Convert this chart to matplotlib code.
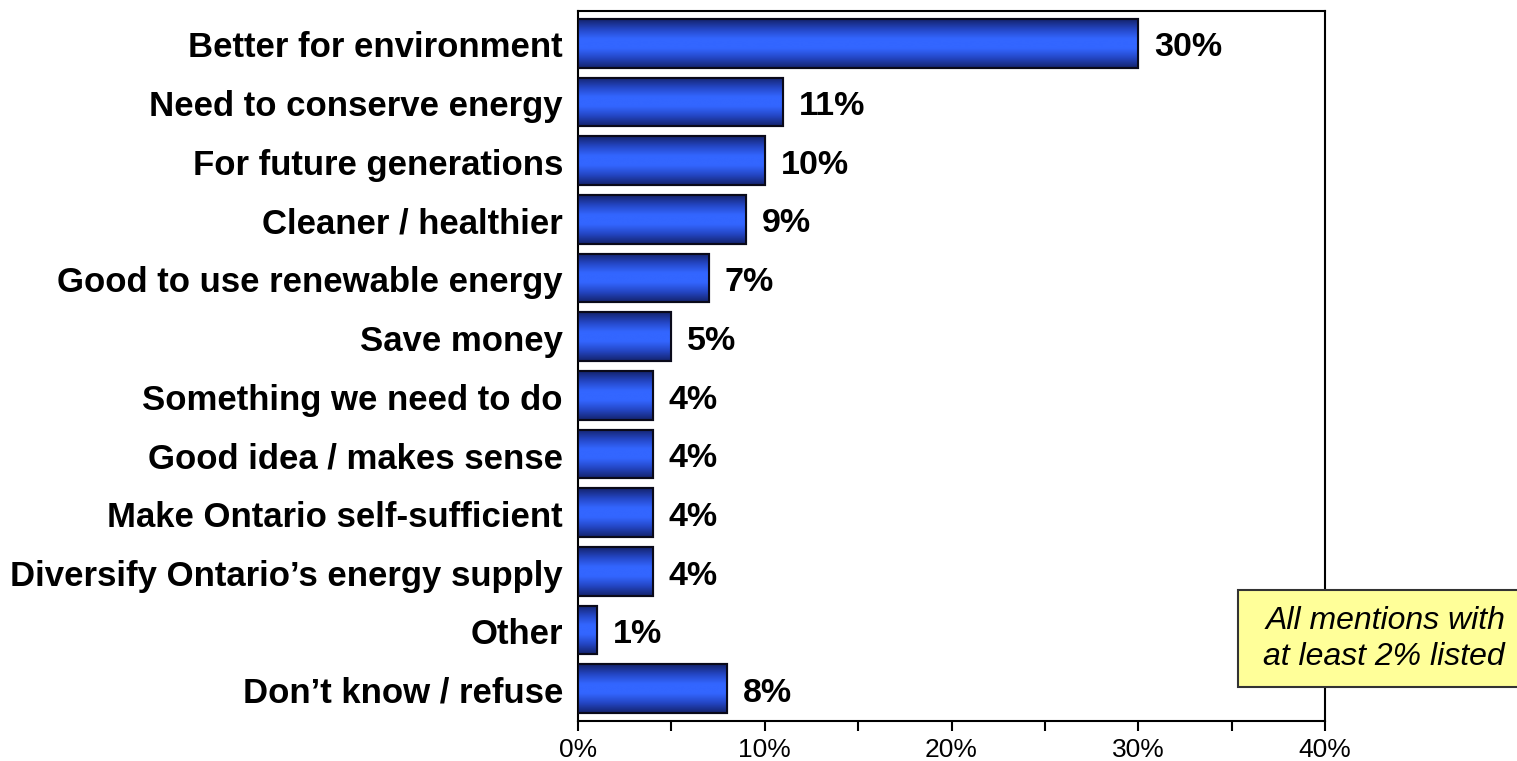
import numpy as np
import matplotlib.pyplot as plt
import matplotlib.transforms as mtransforms
from matplotlib.colors import LinearSegmentedColormap

# Data
categories = [
    "Better for environment",
    "Need to conserve energy",
    "For future generations",
    "Cleaner / healthier",
    "Good to use renewable energy",
    "Save money",
    "Something we need to do",
    "Good idea / makes sense",
    "Make Ontario self-sufficient",
    "Diversify Ontario\u2019s energy supply",
    "Other",
    "Don\u2019t know / refuse",
]
values = [30, 11, 10, 9, 7, 5, 4, 4, 4, 4, 1, 8]
xticks = [0, 10, 20, 30, 40]
note = "All mentions with\nat least 2% listed"

plt.rcParams['font.family'] = ['Liberation Sans', 'DejaVu Sans']

W, H = 1517, 761
fig = plt.figure(figsize=(W / 100, H / 100), dpi=100)
ax = fig.add_axes([578 / W, 1 - 721 / H, (1325 - 578) / W, (721 - 11) / H])

y = np.arange(len(categories))
bar_h = 0.83
bars = ax.barh(y, values, height=bar_h, color='#2f5ef0', edgecolor='#0a0a1a',
               linewidth=1.5, zorder=3)

# Vertical gradient inside each bar (dark edges, bright centre)
grad_cmap = LinearSegmentedColormap.from_list(
    'barg', ['#14246e', '#2446c4', '#3366ff', '#3366ff', '#2446c4', '#14246e'])
grad = np.linspace(0, 1, 64).reshape(-1, 1)
for b in bars:
    x0, y0 = b.get_x(), b.get_y()
    w, h = b.get_width(), b.get_height()
    im = ax.imshow(grad, cmap=grad_cmap, aspect='auto', extent=[x0, x0 + w, y0, y0 + h],
                   origin='lower', zorder=3.5, interpolation='bicubic')
    im.set_clip_path(b)
    ax.add_patch(plt.Rectangle((x0, y0), w, h, fill=False, edgecolor='#0a0a1a',
                               linewidth=1.5, zorder=4))

for yi, v in zip(y, values):
    ax.text(v + 0.85, yi + 0.08, f"{v}%", va='center', ha='left', fontsize=24.5,
            fontweight='bold', color='black', zorder=5)

# category labels
lab_tr = mtransforms.blended_transform_factory(ax.transAxes, ax.transData)
for yi, c in zip(y, categories):
    ax.text(-15 / (1325 - 578), yi + 0.08, c, transform=lab_tr, ha='right', va='center',
            fontsize=25, fontweight='bold', color='black')

ax.set_xlim(0, 40)
ax.set_ylim(len(categories) - 0.5 + 0.05, -0.5 - 0.05)
ax.set_yticks([])
ax.set_xticks(xticks)
ax.set_xticklabels([f"{t}%" for t in xticks], fontsize=19)
ax.set_xticks([5, 15, 25, 35], minor=True)
ax.tick_params(axis='x', which='both', direction='out', length=7, width=1.5, pad=5)
for s in ax.spines.values():
    s.set_linewidth(1.5)
ax.set_facecolor('none')

# note box
fig.patches.append(plt.Rectangle((1238 / W, 1 - 687 / H), (W + 5 - 1238) / W, 97 / H,
                                 transform=fig.transFigure, facecolor='#ffff99',
                                 edgecolor='#333333', linewidth=1.5, zorder=5))
fig.text(1505 / W, 1 - 639 / H, note, ha='right', va='center', fontsize=23,
         style='italic', linespacing=1.3, zorder=6)

fig.savefig('out.png', dpi=100, facecolor='white')
